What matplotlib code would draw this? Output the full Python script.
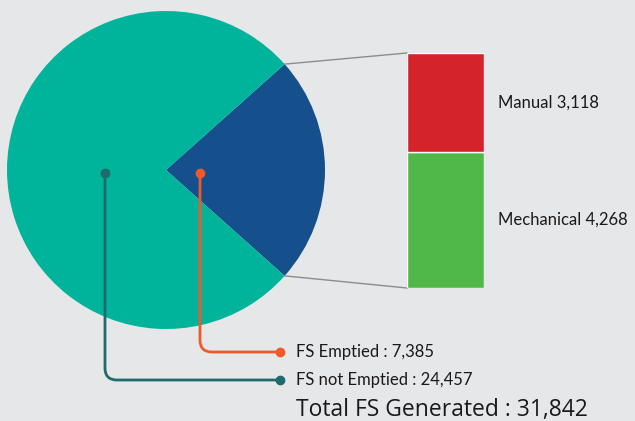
import matplotlib.pyplot as plt
from matplotlib.path import Path
from matplotlib.patches import PathPatch
import numpy as np

# Data
pie_labels = ["FS Emptied", "FS not Emptied"]
pie_values = [7385, 24457]
bar_labels = ["Mechanical", "Manual"]
bar_values = [4268, 3118]
total = sum(pie_values)

bg = "#e6e7e9"
pie_colors = ["#154f8c", "#00b49c"]
bar_colors = ["#50b848", "#d4232b"]
lead_colors = ["#f05a28", "#1f6a6c"]

W, H = 635, 421
fig = plt.figure(figsize=(W / 100, H / 100), dpi=100, facecolor=bg)
ax = fig.add_axes([0, 0, 1, 1])
ax.axis("off")

# Pie (pixel coordinates, y measured from bottom)
cx, cy, R = 166, H - 170, 159
frac = pie_values[0] / total
ax.pie(pie_values, colors=pie_colors, startangle=-frac * 180, counterclock=True,
       center=(cx, cy), radius=R, wedgeprops=dict(linewidth=0))
ax.set_xlim(0, W)
ax.set_ylim(0, H)
ax.set_aspect("equal")

# Stacked bar for the breakdown of the small slice
bx0, btop, bbot, bw = 407, 53, 288, 77
bax = fig.add_axes([bx0 / W, (H - bbot) / H, bw / W, (bbot - btop) / H])
bottom = 0
for lab, val, col in zip(bar_labels, bar_values, bar_colors):
    bax.bar(0, val, bottom=bottom, width=1, color=col, edgecolor="white", linewidth=1)
    bax.text(0.68, bottom + val / 2, f"{lab} {val:,}", va="center", ha="left",
             fontsize=12, family="Lato", color="#1a1a1a")
    bottom += val
bax.set_xlim(-0.5, 0.5)
bax.set_ylim(0, sum(bar_values))
bax.axis("off")

# Connector lines from slice edges to bar corners
a1 = np.deg2rad(frac * 180)
for sgn, by in [(1, btop), (-1, bbot)]:
    px = cx + R * np.cos(a1)
    py = cy + sgn * R * np.sin(a1)
    ax.plot([px, bx0], [py, H - by], color="#8c8c8c", lw=1)

# Leader lines with rounded corners
leaders = [((200, 173), 352), ((105, 173), 380)]
x_end, r = 280, 12
for ((x0, y0), y1), col, lab, val in zip(leaders, lead_colors, pie_labels, pie_values):
    Y0, Y1 = H - y0, H - y1
    verts = [(x0, Y0), (x0, Y1 + r), (x0, Y1), (x0 + r, Y1), (x_end, Y1)]
    codes = [Path.MOVETO, Path.LINETO, Path.CURVE3, Path.CURVE3, Path.LINETO]
    ax.add_patch(PathPatch(Path(verts, codes), fill=False, edgecolor=col, lw=2))
    ax.plot([x0, x_end], [Y0, Y1], "o", color=col, ms=6, ls="none")
    ax.text(296, Y1, f"{lab} : {val:,}", va="center", ha="left", fontsize=12,
            family="Lato", color="#1a1a1a")

ax.text(296, H - 410, f"Total FS Generated : {total:,}", va="center", ha="left",
        fontsize=16.5, family="Open Sans", color="#1a1a1a")

fig.savefig("out.png", dpi=100, facecolor=bg)
